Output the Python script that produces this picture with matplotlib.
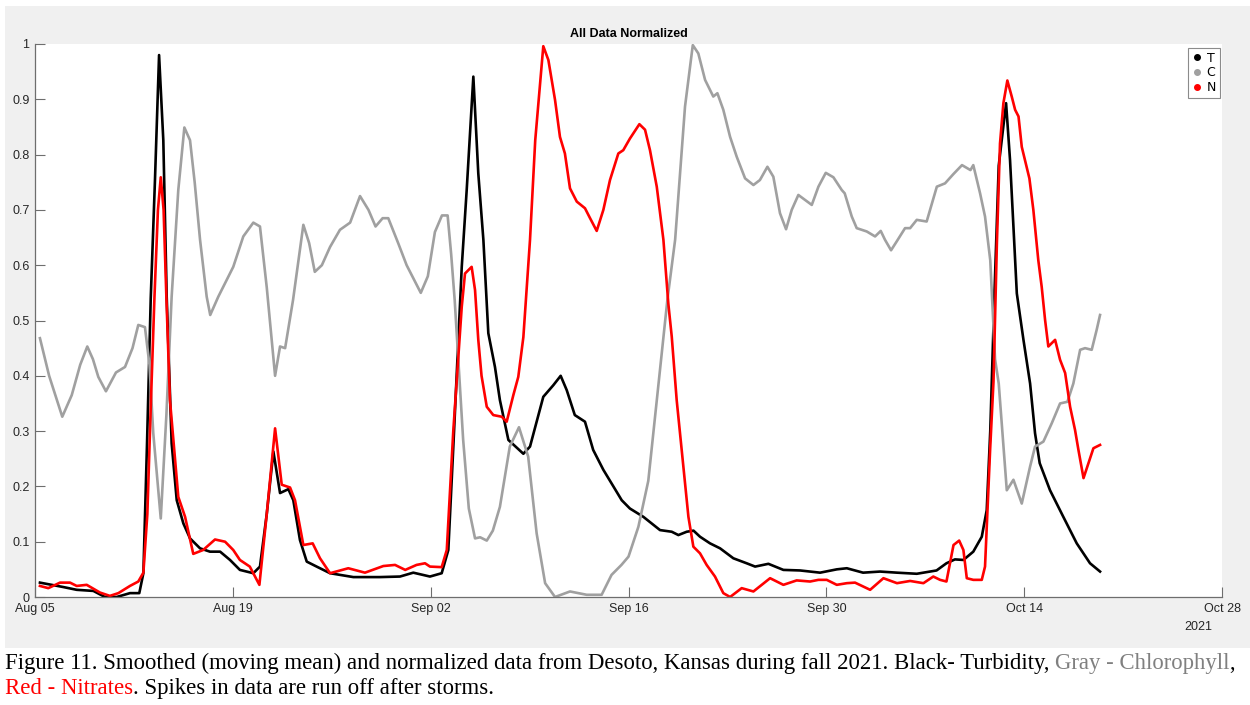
import matplotlib
matplotlib.use("Agg")
import matplotlib.pyplot as plt
from matplotlib.patches import Rectangle
from matplotlib.lines import Line2D

# days since Aug 05 2021, values normalised 0..1
t_days = [0.35, 2.0, 2.95, 4.13, 4.95, 5.78, 6.72, 7.38, 7.67, 7.93, 8.19, 8.49, 8.78, 9.08, 9.32,
          9.67, 10.03, 10.5, 10.97, 11.68, 12.38, 13.1, 13.8, 14.5, 15.45, 15.92, 16.4, 16.87, 17.34,
          17.93, 18.28, 18.75, 19.23, 19.93, 20.88, 22.53, 24.4, 25.83, 26.77, 27.95, 28.78, 29.25,
          29.6, 30.2, 30.55, 31.02, 31.37, 31.73, 32.08, 32.55, 32.9, 33.5, 34.56, 35.03, 35.97,
          36.68, 37.2, 37.63, 38.2, 38.92, 39.5, 40.22, 40.93, 41.52, 42.1, 43.05, 44.23, 45.06,
          45.53, 46.12, 46.6, 47.06, 47.77, 48.48, 49.42, 50.36, 50.96, 51.9, 52.96, 54.14, 55.56,
          56.74, 57.45, 58.6, 59.8, 61.0, 62.4, 63.8, 64.5, 65.1, 65.7, 66.4, 67.0, 67.35, 67.6,
          67.9, 68.2, 68.72, 69.0, 69.24, 69.48, 69.95, 70.42, 70.77, 71.1, 71.83, 72.77, 73.72,
          74.66, 75.37]
t_vals = [0.026, 0.018, 0.013, 0.011, 0.0, 0.0, 0.007, 0.007, 0.043, 0.28, 0.54, 0.754, 0.98, 0.826,
          0.543, 0.278, 0.175, 0.133, 0.106, 0.088, 0.082, 0.082, 0.067, 0.049, 0.043, 0.055, 0.15,
          0.263, 0.188, 0.195, 0.175, 0.103, 0.064, 0.055, 0.043, 0.036, 0.036, 0.037, 0.044, 0.037,
          0.043, 0.085, 0.27, 0.597, 0.736, 0.941, 0.766, 0.646, 0.477, 0.416, 0.356, 0.284, 0.259,
          0.272, 0.362, 0.383, 0.40, 0.374, 0.329, 0.317, 0.266, 0.23, 0.2, 0.175, 0.16, 0.145,
          0.121, 0.118, 0.112, 0.118, 0.12, 0.109, 0.097, 0.088, 0.07, 0.061, 0.055, 0.06, 0.049,
          0.048, 0.044, 0.05, 0.052, 0.044, 0.046, 0.044, 0.042, 0.048, 0.061, 0.068, 0.067, 0.082,
          0.109, 0.157, 0.3, 0.55, 0.78, 0.893, 0.79, 0.67, 0.549, 0.465, 0.386, 0.296, 0.242, 0.193,
          0.145, 0.097, 0.061, 0.046]

c_days = [0.35, 1.0, 1.93, 2.6, 3.2, 3.7, 4.1, 4.48, 5.02, 5.73, 6.37, 6.9, 7.31, 7.78, 8.1, 8.37,
          8.9, 9.3, 9.67, 10.14, 10.57, 10.97, 11.3, 11.68, 12.15, 12.4, 12.97, 13.5, 14.03, 14.74,
          15.45, 15.92, 16.4, 16.99, 17.34, 17.7, 18.26, 18.99, 19.4, 19.8, 20.3, 20.88, 21.58,
          22.3, 23.0, 23.6, 24.1, 24.6, 25.0, 25.7, 26.3, 26.8, 27.3, 27.8, 28.3, 28.8, 29.2,
          29.45, 29.7, 30.3, 30.7, 31.14, 31.5, 31.97, 32.4, 32.9, 33.6, 34.25, 34.9, 35.5, 36.1,
          36.8, 37.86, 39.04, 40.1, 40.8, 41.5, 42.0, 42.7, 43.4, 44.0, 44.47, 44.75, 45.3, 46.0,
          46.55, 46.94, 47.42, 48.0, 48.29, 48.71, 49.19, 49.66, 50.25, 50.84, 51.3, 51.83, 52.25,
          52.72, 53.15, 53.55, 54.02, 54.5, 54.97, 55.44, 55.96, 56.5, 57.09, 57.3, 57.8, 58.15,
          58.86, 59.45, 59.85, 60.15, 60.58, 60.98, 61.57, 61.93, 62.4, 63.1, 63.82, 64.4, 65.0,
          65.6, 66.2, 66.4, 66.88, 67.23, 67.6, 67.94, 68.2, 68.55, 68.77, 69.24, 69.83, 70.42,
          70.77, 71.36, 71.95, 72.54, 73.06, 73.48, 73.96, 74.31, 74.78, 75.13, 75.37]
c_vals = [0.468, 0.40, 0.326, 0.365, 0.42, 0.453, 0.43, 0.398, 0.372, 0.406, 0.416, 0.45, 0.492,
          0.488, 0.42, 0.296, 0.142, 0.33, 0.543, 0.736, 0.849, 0.826, 0.75, 0.646, 0.543, 0.51,
          0.543, 0.57, 0.597, 0.652, 0.677, 0.67, 0.56, 0.40, 0.453, 0.45, 0.537, 0.673, 0.64,
          0.588, 0.60, 0.633, 0.664, 0.677, 0.725, 0.70, 0.67, 0.685, 0.685, 0.64, 0.60, 0.575,
          0.55, 0.58, 0.66, 0.69, 0.69, 0.62, 0.537, 0.284, 0.16, 0.106, 0.108, 0.102, 0.12, 0.163,
          0.272, 0.307, 0.254, 0.115, 0.025, 0.0, 0.01, 0.004, 0.004, 0.04, 0.058, 0.073, 0.127,
          0.21, 0.356, 0.47, 0.537, 0.646, 0.887, 0.998, 0.983, 0.935, 0.905, 0.911, 0.881, 0.832,
          0.796, 0.757, 0.745, 0.754, 0.778, 0.76, 0.694, 0.665, 0.70, 0.727, 0.718, 0.709, 0.742,
          0.767, 0.759, 0.736, 0.73, 0.688, 0.667, 0.661, 0.652, 0.662, 0.646, 0.627, 0.643, 0.667,
          0.667, 0.682, 0.679, 0.742, 0.748, 0.765, 0.781, 0.772, 0.781, 0.73, 0.688, 0.609, 0.43,
          0.386, 0.266, 0.193, 0.212, 0.169, 0.236, 0.272, 0.281, 0.314, 0.35, 0.353, 0.386, 0.447,
          0.45, 0.447, 0.483, 0.51]

n_days = [0.35, 0.94, 1.77, 2.48, 2.95, 3.66, 4.6, 5.3, 5.9, 6.72, 7.31, 7.67, 7.95, 8.2, 8.45, 8.7,
          8.9, 9.1, 9.3, 9.55, 10.14, 10.62, 11.2, 11.9, 12.74, 13.45, 14.03, 14.5, 15.2, 15.88, 16.4,
          16.99, 17.46, 18.05, 18.4, 18.99, 19.65, 20.17, 20.88, 22.17, 23.35, 24.65, 25.48, 26.2,
          27.0, 27.6, 27.95, 28.78, 29.14, 29.6, 30.2, 30.43, 30.9, 31.14, 31.37, 31.6, 31.97, 32.43,
          33.03, 33.38, 33.85, 34.2, 34.56, 35.03, 35.4, 35.97, 36.33, 36.8, 37.15, 37.5, 37.86,
          38.34, 38.92, 39.28, 39.75, 40.22, 40.69, 41.28, 41.63, 42.1, 42.77, 43.17, 43.52, 44.0,
          44.47, 44.82, 45.06, 45.41, 45.88, 46.24, 46.59, 47.06, 47.53, 48.12, 48.71, 49.19, 50.01,
          50.84, 52.02, 52.96, 53.9, 54.85, 55.44, 56.03, 56.74, 57.45, 58.03, 59.1, 60.04, 61.0,
          61.93, 62.87, 63.57, 64.05, 64.5, 65.0, 65.4, 65.7, 65.94, 66.4, 67.0, 67.23, 67.59, 67.83,
          68.07, 68.29, 68.53, 68.81, 69.12, 69.36, 69.6, 69.83, 70.06, 70.37, 70.65, 71.0, 71.24,
          71.48, 71.71, 72.19, 72.54, 72.9, 73.25, 73.6, 73.84, 74.2, 74.55, 74.9, 75.37]
n_vals = [0.02, 0.016, 0.026, 0.026, 0.02, 0.022, 0.008, 0.002, 0.007, 0.02, 0.028, 0.044, 0.15, 0.35,
          0.54, 0.7, 0.759, 0.7, 0.54, 0.356, 0.181, 0.145, 0.078, 0.085, 0.104, 0.1, 0.085, 0.067,
          0.055, 0.022, 0.15, 0.305, 0.203, 0.198, 0.175, 0.094, 0.097, 0.07, 0.043, 0.052, 0.044,
          0.056, 0.058, 0.049, 0.058, 0.061, 0.055, 0.054, 0.085, 0.3, 0.525, 0.585, 0.597, 0.555,
          0.465, 0.40, 0.344, 0.329, 0.326, 0.317, 0.365, 0.398, 0.47, 0.646, 0.826, 0.996, 0.971,
          0.899, 0.832, 0.802, 0.739, 0.715, 0.703, 0.685, 0.662, 0.70, 0.754, 0.802, 0.808, 0.829,
          0.855, 0.845, 0.808, 0.742, 0.646, 0.53, 0.471, 0.356, 0.236, 0.145, 0.091, 0.079, 0.058,
          0.037, 0.007, 0.0, 0.016, 0.01, 0.034, 0.022, 0.03, 0.028, 0.031, 0.031, 0.022, 0.025,
          0.026, 0.013, 0.034, 0.025, 0.029, 0.025, 0.037, 0.031, 0.028, 0.094, 0.102, 0.085, 0.034,
          0.031, 0.031, 0.055, 0.266, 0.39, 0.64, 0.82, 0.893, 0.934, 0.905, 0.881, 0.869, 0.814,
          0.79, 0.757, 0.70, 0.609, 0.561, 0.501, 0.453, 0.465, 0.429, 0.405, 0.344, 0.302, 0.266,
          0.215, 0.242, 0.269, 0.275]

tick_days = [0, 14, 28, 42, 56, 70, 84]
tick_labels = ["Aug 05", "Aug 19", "Sep 02", "Sep 16", "Sep 30", "Oct 14", "Oct 28"]

W, H = 1250, 705
fig = plt.figure(figsize=(W / 100, H / 100), dpi=100, facecolor="white")

# matlab-ish grey figure area (behind the axes)
fig.patches.append(Rectangle((5 / W, 1 - 648 / H), 1 - 5 / W, (648 - 6) / H,
                             transform=fig.transFigure, facecolor="#f0f0f0", edgecolor="none", zorder=-5))

ax = fig.add_axes([35 / W, 1 - 597 / H, (1222 - 35) / W, (597 - 44) / H])
ax.set_facecolor("white")

ax.plot(t_days, t_vals, color="black", lw=1.9)
ax.plot(c_days, c_vals, color="#a0a0a0", lw=1.9)
ax.plot(n_days, n_vals, color="red", lw=1.9)

ax.set_xlim(0, 84)
ax.set_ylim(0, 1)
ax.set_xticks(tick_days)
ax.set_xticklabels(tick_labels)
ax.set_yticks([i / 10 for i in range(11)])
ax.set_yticklabels(["0"] + ["%.1f" % (i / 10) for i in range(1, 10)] + ["1"])
for s in ["top", "right"]:
    ax.spines[s].set_visible(False)
for s in ["left", "bottom"]:
    ax.spines[s].set_color("#6e6e6e")
    ax.spines[s].set_linewidth(0.9)
ax.tick_params(direction="in", length=7, width=0.8, color="#6e6e6e",
               labelsize=9, labelcolor="#262626", pad=4)
for lab in ax.get_xticklabels() + ax.get_yticklabels():
    lab.set_family("Liberation Sans")

ax.set_title("All Data Normalized", fontsize=9, fontweight="bold", family="Liberation Sans", pad=5)
fig.text(1212 / W, 1 - 627 / H, "2021", ha="right", va="center", fontsize=9,
         family="Liberation Sans", color="#262626")

handles = [Line2D([], [], ls="none", marker="o", ms=4, color=c) for c in ["black", "#a0a0a0", "red"]]
leg = ax.legend(handles, ["T", "C", "N"], loc="upper right", bbox_to_anchor=(0.998, 0.993),
                fontsize=9, frameon=True, fancybox=False, handlelength=0.8, handletextpad=0.4,
                borderpad=0.3, labelspacing=0.15, borderaxespad=0)
leg.get_frame().set_edgecolor("#6e6e6e")
leg.get_frame().set_linewidth(0.8)

# caption with coloured words
def caption_line(parts, x0, y):
    fig.canvas.draw()
    r = fig.canvas.get_renderer()
    x = x0
    for txt, col in parts:
        t = fig.text(x, y, txt, color=col, fontsize=16.4, family="Liberation Serif",
                     ha="left", va="baseline")
        bb = t.get_window_extent(renderer=r)
        x += bb.width / W

caption_line([("Figure 11. Smoothed (moving mean) and normalized data from Desoto, Kansas during fall 2021. "
               "Black- Turbidity, ", "black"), ("Gray - Chlorophyll", "#808080"), (",", "black")],
             5 / W, 1 - 669 / H)
caption_line([("Red - Nitrates", "red"), (". Spikes in data are run off after storms.", "black")],
             5 / W, 1 - 694 / H)

fig.savefig("out.png", dpi=100, facecolor=fig.get_facecolor())
